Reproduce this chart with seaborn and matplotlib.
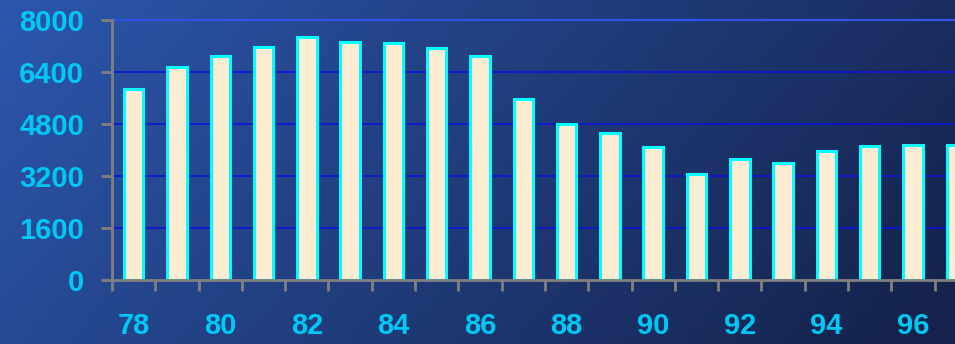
import numpy as np
import pandas as pd
import matplotlib
matplotlib.use("Agg")
import matplotlib.pyplot as plt
import seaborn as sns

# data
years = ["78", "79", "80", "81", "82", "83", "84", "85", "86", "87",
         "88", "89", "90", "91", "92", "93", "94", "95", "96", "97"]
values = [5880, 6540, 6890, 7160, 7480, 7310, 7280, 7130, 6900, 5570,
          4800, 4510, 4100, 3270, 3710, 3600, 3960, 4130, 4160, 4160]
y_ticks = [0, 1600, 3200, 4800, 6400, 8000]

df = pd.DataFrame({"year": years, "value": values})

sns.set_theme(style="white")
plt.rcParams["font.family"] = ["Liberation Sans", "DejaVu Sans"]

fig = plt.figure(figsize=(9.55, 3.44), dpi=100)

# gradient background (lighter blue at left/bottom, navy at right)
bg = fig.add_axes([0, 0, 1, 1], zorder=0)
gx, gy = np.meshgrid(np.linspace(0, 1, 256), np.linspace(0, 1, 64))
t = np.clip(0.8 * gx + 0.25 * gy, 0, 1)
c0 = np.array([0x2c, 0x57, 0xad]) / 255
c1 = np.array([0x15, 0x23, 0x4c]) / 255
img = c0[None, None, :] * (1 - t[..., None]) + c1[None, None, :] * t[..., None]
bg.imshow(img, aspect="auto", origin="upper", extent=[0, 1, 0, 1])
bg.axis("off")

ax = fig.add_axes([112 / 955, 64 / 344, 1 - 112 / 955, 260 / 344], zorder=1)
ax.patch.set_alpha(0)

sns.barplot(data=df, x="year", y="value", ax=ax, width=0.45,
            color="#fbecd2", edgecolor="#00ffff", linewidth=2.2,
            saturation=1, zorder=3)

ax.set_yticks(y_ticks)
ax.set_yticklabels([str(v) for v in y_ticks])
ax.set_xticks(range(0, len(years), 2))
ax.set_xticklabels(years[::2])
ax.set_xticks(np.arange(-0.5, len(years), 1), minor=True)
ax.set_ylim(0, 8000)
ax.set_xlim(-0.5, 18.97)

for v in y_ticks[1:-1]:
    ax.axhline(v, color="#0a10e0", lw=1.1, zorder=1)
ax.axhline(8000, color="#3352e6", lw=1.6, zorder=1, clip_on=False)

ax.tick_params(axis="x", which="major", length=0, pad=23,
               labelcolor="#00c8f5", labelsize=21)
ax.tick_params(axis="x", which="minor", length=8, width=2,
               color="#808080", direction="out", bottom=True)
ax.tick_params(axis="y", which="major", length=8, width=2,
               color="#808080", direction="out", left=True, pad=12,
               labelcolor="#00c8f5", labelsize=21)
for lab in ax.get_xticklabels() + ax.get_yticklabels():
    lab.set_fontweight("bold")

for side in ["top", "right"]:
    ax.spines[side].set_visible(False)
for side in ["left", "bottom"]:
    ax.spines[side].set_color("#808080")
    ax.spines[side].set_linewidth(2)
    ax.spines[side].set_zorder(4)

ax.set_xlabel("")
ax.set_ylabel("")

fig.savefig("out.png", dpi=100)
